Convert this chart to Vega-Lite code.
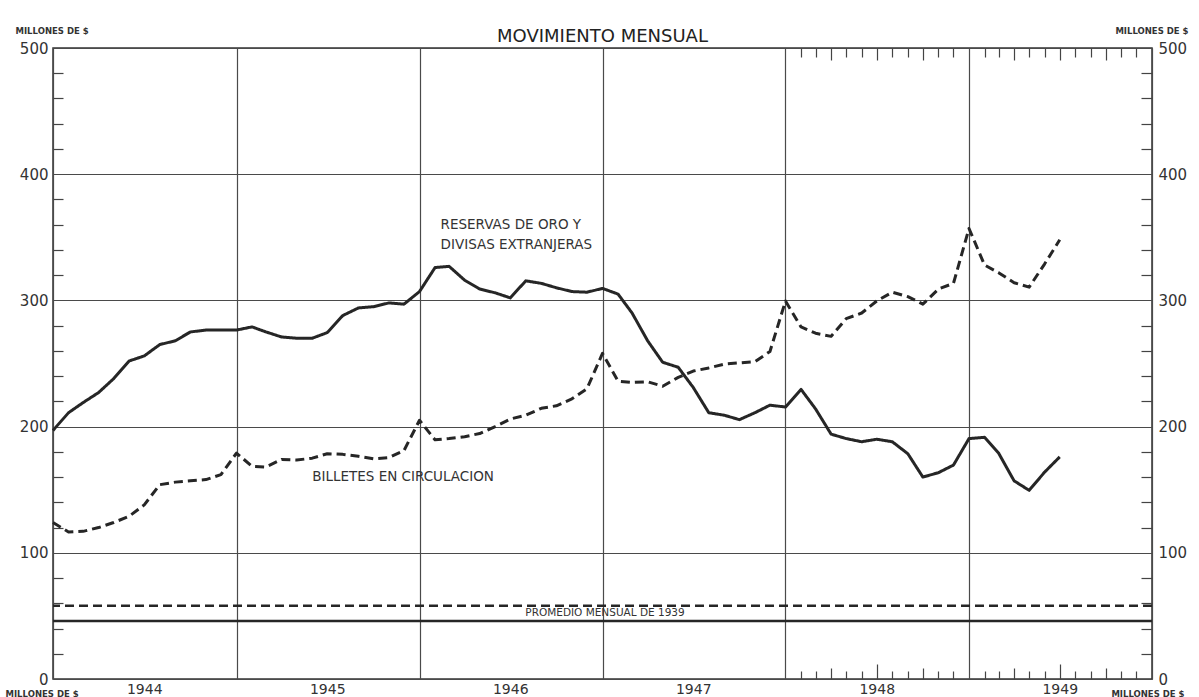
{
  "$schema": "https://vega.github.io/schema/vega-lite/v6.json",
  "autosize": {"type": "none"},
  "padding": {"left": 53, "top": 48, "right": 47, "bottom": 18},
  "width": 1099,
  "height": 631,
  "background": "#ffffff",
  "title": {"text": "MOVIMIENTO MENSUAL", "anchor": "middle", "frame": "group", "offset": 6, "dy": 26, "fontSize": 18, "fontWeight": "normal", "color": "#222", "font": "DejaVu Sans"},
  "layer": [
    {
      "data": {"values": [
        {"fecha": "1944/01/01", "reservas": 197, "billetes": 124},
        {"fecha": "1944/02/01", "reservas": 211, "billetes": 116.5},
        {"fecha": "1944/03/01", "reservas": 219, "billetes": 117},
        {"fecha": "1944/04/01", "reservas": 227, "billetes": 120},
        {"fecha": "1944/05/01", "reservas": 238, "billetes": 124},
        {"fecha": "1944/06/01", "reservas": 252, "billetes": 129},
        {"fecha": "1944/07/01", "reservas": 256, "billetes": 138},
        {"fecha": "1944/08/01", "reservas": 265, "billetes": 154},
        {"fecha": "1944/09/01", "reservas": 268, "billetes": 156},
        {"fecha": "1944/10/01", "reservas": 275, "billetes": 157},
        {"fecha": "1944/11/01", "reservas": 276.5, "billetes": 158},
        {"fecha": "1944/12/01", "reservas": 276.5, "billetes": 162},
        {"fecha": "1945/01/01", "reservas": 276.5, "billetes": 179},
        {"fecha": "1945/02/01", "reservas": 279, "billetes": 168.5},
        {"fecha": "1945/03/01", "reservas": 275, "billetes": 168},
        {"fecha": "1945/04/01", "reservas": 271, "billetes": 174},
        {"fecha": "1945/05/01", "reservas": 270, "billetes": 173.5},
        {"fecha": "1945/06/01", "reservas": 270, "billetes": 175},
        {"fecha": "1945/07/01", "reservas": 274.5, "billetes": 178.5},
        {"fecha": "1945/08/01", "reservas": 288, "billetes": 178},
        {"fecha": "1945/09/01", "reservas": 294, "billetes": 176.5},
        {"fecha": "1945/10/01", "reservas": 295, "billetes": 174.5},
        {"fecha": "1945/11/01", "reservas": 298, "billetes": 175.5},
        {"fecha": "1945/12/01", "reservas": 297, "billetes": 181},
        {"fecha": "1946/01/01", "reservas": 307, "billetes": 205},
        {"fecha": "1946/02/01", "reservas": 326, "billetes": 189.5},
        {"fecha": "1946/03/01", "reservas": 327, "billetes": 190.5},
        {"fecha": "1946/04/01", "reservas": 316, "billetes": 192},
        {"fecha": "1946/05/01", "reservas": 309, "billetes": 194.5},
        {"fecha": "1946/06/01", "reservas": 306, "billetes": 200},
        {"fecha": "1946/07/01", "reservas": 302, "billetes": 206},
        {"fecha": "1946/08/01", "reservas": 315.5, "billetes": 209},
        {"fecha": "1946/09/01", "reservas": 313.5, "billetes": 214.5},
        {"fecha": "1946/10/01", "reservas": 310, "billetes": 216.5},
        {"fecha": "1946/11/01", "reservas": 307, "billetes": 222},
        {"fecha": "1946/12/01", "reservas": 306.5, "billetes": 230},
        {"fecha": "1947/01/01", "reservas": 309.5, "billetes": 258},
        {"fecha": "1947/02/01", "reservas": 305, "billetes": 236},
        {"fecha": "1947/03/01", "reservas": 290, "billetes": 235},
        {"fecha": "1947/04/01", "reservas": 268, "billetes": 235.5},
        {"fecha": "1947/05/01", "reservas": 251, "billetes": 232},
        {"fecha": "1947/06/01", "reservas": 247, "billetes": 239},
        {"fecha": "1947/07/01", "reservas": 231, "billetes": 244},
        {"fecha": "1947/08/01", "reservas": 211, "billetes": 246.5},
        {"fecha": "1947/09/01", "reservas": 209, "billetes": 249.5},
        {"fecha": "1947/10/01", "reservas": 205.5, "billetes": 250.5},
        {"fecha": "1947/11/01", "reservas": 211, "billetes": 251.5},
        {"fecha": "1947/12/01", "reservas": 217, "billetes": 259.5},
        {"fecha": "1948/01/01", "reservas": 215.5, "billetes": 299.5},
        {"fecha": "1948/02/01", "reservas": 229.5, "billetes": 279},
        {"fecha": "1948/03/01", "reservas": 214, "billetes": 274},
        {"fecha": "1948/04/01", "reservas": 194, "billetes": 271.5},
        {"fecha": "1948/05/01", "reservas": 190.5, "billetes": 285.5},
        {"fecha": "1948/06/01", "reservas": 188, "billetes": 290},
        {"fecha": "1948/07/01", "reservas": 190, "billetes": 299.5},
        {"fecha": "1948/08/01", "reservas": 188, "billetes": 306.5},
        {"fecha": "1948/09/01", "reservas": 178.5, "billetes": 303},
        {"fecha": "1948/10/01", "reservas": 160, "billetes": 297},
        {"fecha": "1948/11/01", "reservas": 163.5, "billetes": 309},
        {"fecha": "1948/12/01", "reservas": 169.5, "billetes": 313.5},
        {"fecha": "1949/01/01", "reservas": 190.5, "billetes": 357},
        {"fecha": "1949/02/01", "reservas": 191.5, "billetes": 328},
        {"fecha": "1949/03/01", "reservas": 179, "billetes": 322},
        {"fecha": "1949/04/01", "reservas": 157, "billetes": 314},
        {"fecha": "1949/05/01", "reservas": 149.5, "billetes": 310.5},
        {"fecha": "1949/06/01", "reservas": 164, "billetes": 329},
        {"fecha": "1949/07/01", "reservas": 176, "billetes": 348}
      ]},
      "transform": [{"fold": ["reservas", "billetes"], "as": ["serie", "valor"]}],
      "mark": {"type": "line", "strokeWidth": 3, "color": "#262626", "strokeJoin": "round"},
      "encoding": {
        "x": {"field": "fecha", "type": "temporal",
          "scale": {"domain": [{"year": 1944, "month": 1, "date": 1}, {"year": 1950, "month": 1, "date": 1}]},
          "axis": {
            "orient": "bottom",
            "tickCount": {"interval": "month", "step": 1},
            "labelExpr": "month(datum.value) == 6 ? timeFormat(datum.value, '%Y') : ''",
            "labelOverlap": false, "labelFlush": false, "labelBound": false,
            "labelFontSize": 14, "labelBaseline": "top",
            "labelPadding": {"condition": {"test": "year(datum.value) >= 1948 && year(datum.value) <= 1949 && month(datum.value) == 6", "value": 18}, "value": 3},
            "tickSize": {"condition": [
              {"test": "year(datum.value) < 1948 || year(datum.value) > 1949 || month(datum.value) == 0", "value": 0},
              {"test": "month(datum.value) == 6", "value": -15},
              {"test": "month(datum.value) % 3 == 0", "value": -11}
            ], "value": -8},
            "grid": true,
            "gridOpacity": {"condition": {"test": "month(datum.value) == 0", "value": 1}, "value": 0},
            "title": "MILLONES DE $", "titleAnchor": "start", "titleAlign": "left", "titleBaseline": "top", "titleX": -48, "titleY": 10
          }
        },
        "y": {"field": "valor", "type": "quantitative",
          "scale": {"domain": [0, 500], "nice": false},
          "axis": {
            "orient": "left",
            "values": [0,20,40,60,80,100,120,140,160,180,200,220,240,260,280,300,320,340,360,380,400,420,440,460,480,500],
            "labelExpr": "datum.value % 100 == 0 ? datum.label : ''",
            "labelOverlap": false, "labelFontSize": 15, "labelPadding": 5,
            "tickSize": {"condition": {"test": "datum.value % 100 == 0", "value": 0}, "value": -10},
            "grid": true,
            "gridOpacity": {"condition": {"test": "datum.value % 100 == 0", "value": 1}, "value": 0},
            "title": "MILLONES DE $", "titleAngle": 0, "titleAlign": "left", "titleBaseline": "alphabetic", "titleX": -38, "titleY": -15
          }
        },
        "strokeDash": {"field": "serie", "type": "nominal",
          "scale": {"domain": ["reservas", "billetes"], "range": [[1, 0], [9, 5]]},
          "legend": null}
      }
    },
    {
      "data": {"values": [
        {"serie": "billetes", "valor": 58},
        {"serie": "reservas", "valor": 46}
      ]},
      "mark": {"type": "rule", "strokeWidth": 2.5, "color": "#262626"},
      "encoding": {
        "y": {"field": "valor", "type": "quantitative",
          "axis": {
            "orient": "right",
            "values": [0,20,40,60,80,100,120,140,160,180,200,220,240,260,280,300,320,340,360,380,400,420,440,460,480,500],
            "labelExpr": "datum.value % 100 == 0 ? datum.label : ''",
            "labelOverlap": false, "labelFontSize": 15, "labelPadding": 6,
            "tickSize": {"condition": {"test": "datum.value % 100 == 0", "value": 0}, "value": -11},
            "grid": false,
            "title": "MILLONES DE $", "titleAngle": 0, "titleAlign": "right", "titleBaseline": "alphabetic", "titleX": 36, "titleY": -15
          }
        },
        "strokeDash": {"field": "serie", "type": "nominal", "legend": null}
      }
    },
    {
      "data": {"values": [
        {"fecha": "1946/02/12", "valor": 360, "texto": "RESERVAS DE ORO Y"},
        {"fecha": "1946/02/12", "valor": 344, "texto": "DIVISAS EXTRANJERAS"},
        {"fecha": "1945/06/01", "valor": 160, "texto": "BILLETES EN CIRCULACION"}
      ]},
      "mark": {"type": "text", "align": "left", "baseline": "middle", "fontSize": 13.5, "color": "#333", "font": "DejaVu Sans"},
      "encoding": {
        "x": {"field": "fecha", "type": "temporal",
          "axis": {
            "orient": "top",
            "tickCount": {"interval": "month", "step": 1},
            "labels": false, "grid": false,
            "tickSize": {"condition": [
              {"test": "year(datum.value) < 1948 || year(datum.value) > 1949 || month(datum.value) == 0", "value": 0},
              {"test": "month(datum.value) % 3 == 0", "value": -12}
            ], "value": -9},
            "title": "MILLONES DE $", "titleAngle": 0, "titleAlign": "right", "titleBaseline": "top", "titleX": 1131, "titleY": 641
          }
        },
        "y": {"field": "valor", "type": "quantitative", "axis": null},
        "text": {"field": "texto"}
      }
    },
    {
      "data": {"values": [
        {"fecha": "1947/01/06", "valor": 52, "texto": "PROMEDIO MENSUAL DE 1939"}
      ]},
      "mark": {"type": "text", "align": "center", "baseline": "middle", "fontSize": 10.5, "color": "#333", "font": "DejaVu Sans"},
      "encoding": {
        "x": {"field": "fecha", "type": "temporal", "axis": null},
        "y": {"field": "valor", "type": "quantitative", "axis": null},
        "text": {"field": "texto"}
      }
    }
  ],
  "resolve": {"axis": {"x": "independent", "y": "independent"}},
  "config": {
    "font": "DejaVu Sans",
    "view": {"stroke": "#333", "strokeWidth": 1.5},
    "axis": {
      "domain": false,
      "labelFont": "DejaVu Sans", "labelColor": "#333",
      "titleFont": "DejaVu Sans", "titleColor": "#333", "titleFontSize": 8.5, "titleFontWeight": "bold",
      "tickColor": "#444", "tickWidth": 1.2,
      "gridColor": "#4a4a4a", "gridWidth": 1.2
    }
  }
}
